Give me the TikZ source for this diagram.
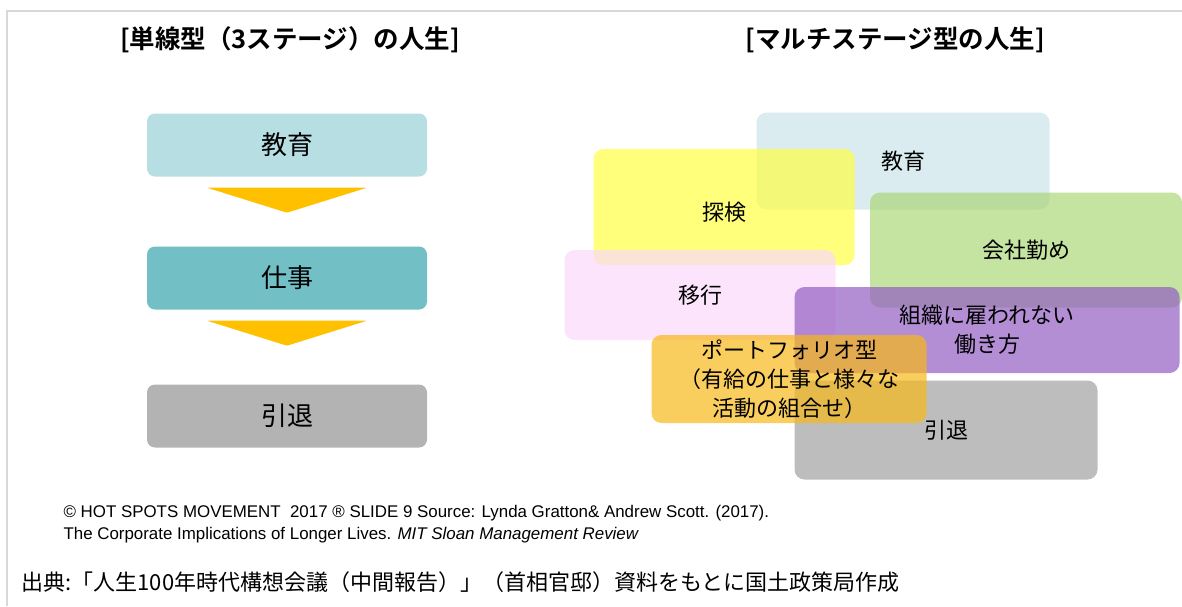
\documentclass[tikz,border=0pt]{standalone}
\usepackage{fontspec}
\setmainfont{Liberation Sans}
\newfontfamily\jpfont{Noto Sans CJK JP}[BoldFont={Noto Sans CJK JP Bold}]
\usetikzlibrary{calc,positioning}

\definecolor{eduleft}{RGB}{183,222,226}
\definecolor{workleft}{RGB}{114,191,197}
\definecolor{retleft}{RGB}{179,179,179}
\definecolor{stepyellow}{RGB}{255,192,0}
\definecolor{edumulti}{RGB}{202,228,232}
\definecolor{explore}{RGB}{255,255,69}
\definecolor{company}{RGB}{172,215,121}
\definecolor{transit}{RGB}{251,217,251}
\definecolor{freework}{RGB}{147,94,194}
\definecolor{retmulti}{RGB}{161,161,161}
\definecolor{portfolio}{RGB}{246,184,25}
\definecolor{frameline}{RGB}{217,217,217}

\tikzset{
  stage/.style={rounded corners=8pt, inner sep=0pt, minimum width=280pt,
    minimum height=63pt, font=\jpfont\fontsize{26}{30}\selectfont},
  multi/.style={rounded corners=10pt, inner sep=0pt, fill opacity=0.7,
    text opacity=1, align=center, font=\jpfont\fontsize{22}{29}\selectfont},
  headline/.style={font=\jpfont\bfseries\fontsize{25.5}{30}\selectfont},
}

\begin{document}
\begin{tikzpicture}[x=1pt,y=-1pt]
  \useasboundingbox (0,0) rectangle (1182,606);
  \draw[frameline, line width=2pt] (1182,10.5) -- (6.5,10.5) -- (6.5,606);

  % titles
  \node[headline] (ttlA) at (290,40) {[単線型（3ステージ）の人生]};
  \node[headline] (ttlB) at (895,40) {[マルチステージ型の人生]};

  % 3-stage life
  \node[stage, fill=eduleft]  (eduA)  at (287,145) {教育};
  \node[stage, fill=workleft] (workA) at (287,278) {仕事};
  \node[stage, fill=retleft]  (retA)  at (287,416) {引退};

  \foreach \from in {eduA,workA}
    \fill[stepyellow, rounded corners=1.5pt]
      ($(\from.south)+(-80,11)$) -- ($(\from.south)+(80,11)$)
      -- ($(\from.south)+(0,36)$) -- cycle;

  % multi-stage life
  \node[multi, fill=edumulti, minimum width=293pt, minimum height=97pt]
    (eduB) at (903,161) {教育};
  \node[multi, fill=explore, minimum width=261pt, minimum height=116pt]
    (expB) at (724,207) {\raisebox{-5pt}[\height][\depth]{探検}};
  \node[multi, fill=company, minimum width=312pt, minimum height=115pt]
    (comB) at (1026,250) {会社勤め};
  \node[multi, fill=transit, minimum width=271pt, minimum height=90pt]
    (traB) at (700,295) {移行};
  \node[multi, fill=freework, minimum width=385pt, minimum height=86pt]
    (freB) at (987,330) {組織に雇われない\\働き方};
  \node[multi, fill=retmulti, minimum width=303pt, minimum height=99pt]
    (retB) at (946,430) {引退};
  \node[multi, fill=portfolio, minimum width=275pt, minimum height=88pt]
    (porB) at (789,379) {ポートフォリオ型\\（有給の仕事と様々な\\活動の組合せ）};

  % sources
  \node[anchor=west, align=left, font=\fontsize{16.9}{22.5}\selectfont]
    (srcA) at (60,524) {© HOT SPOTS MOVEMENT\ \ 2017 ® SLIDE 9 Source: Lynda Gratton\& Andrew Scott. (2017).\\
    The Corporate Implications of Longer Lives. \textit{MIT Sloan Management Review}};
  \node[anchor=west, font=\jpfont\fontsize{22}{25}\selectfont]
    (srcB) at (18,582) {出典:「人生100年時代構想会議（中間報告）」（首相官邸）資料をもとに国土政策局作成};
\end{tikzpicture}
\end{document}
